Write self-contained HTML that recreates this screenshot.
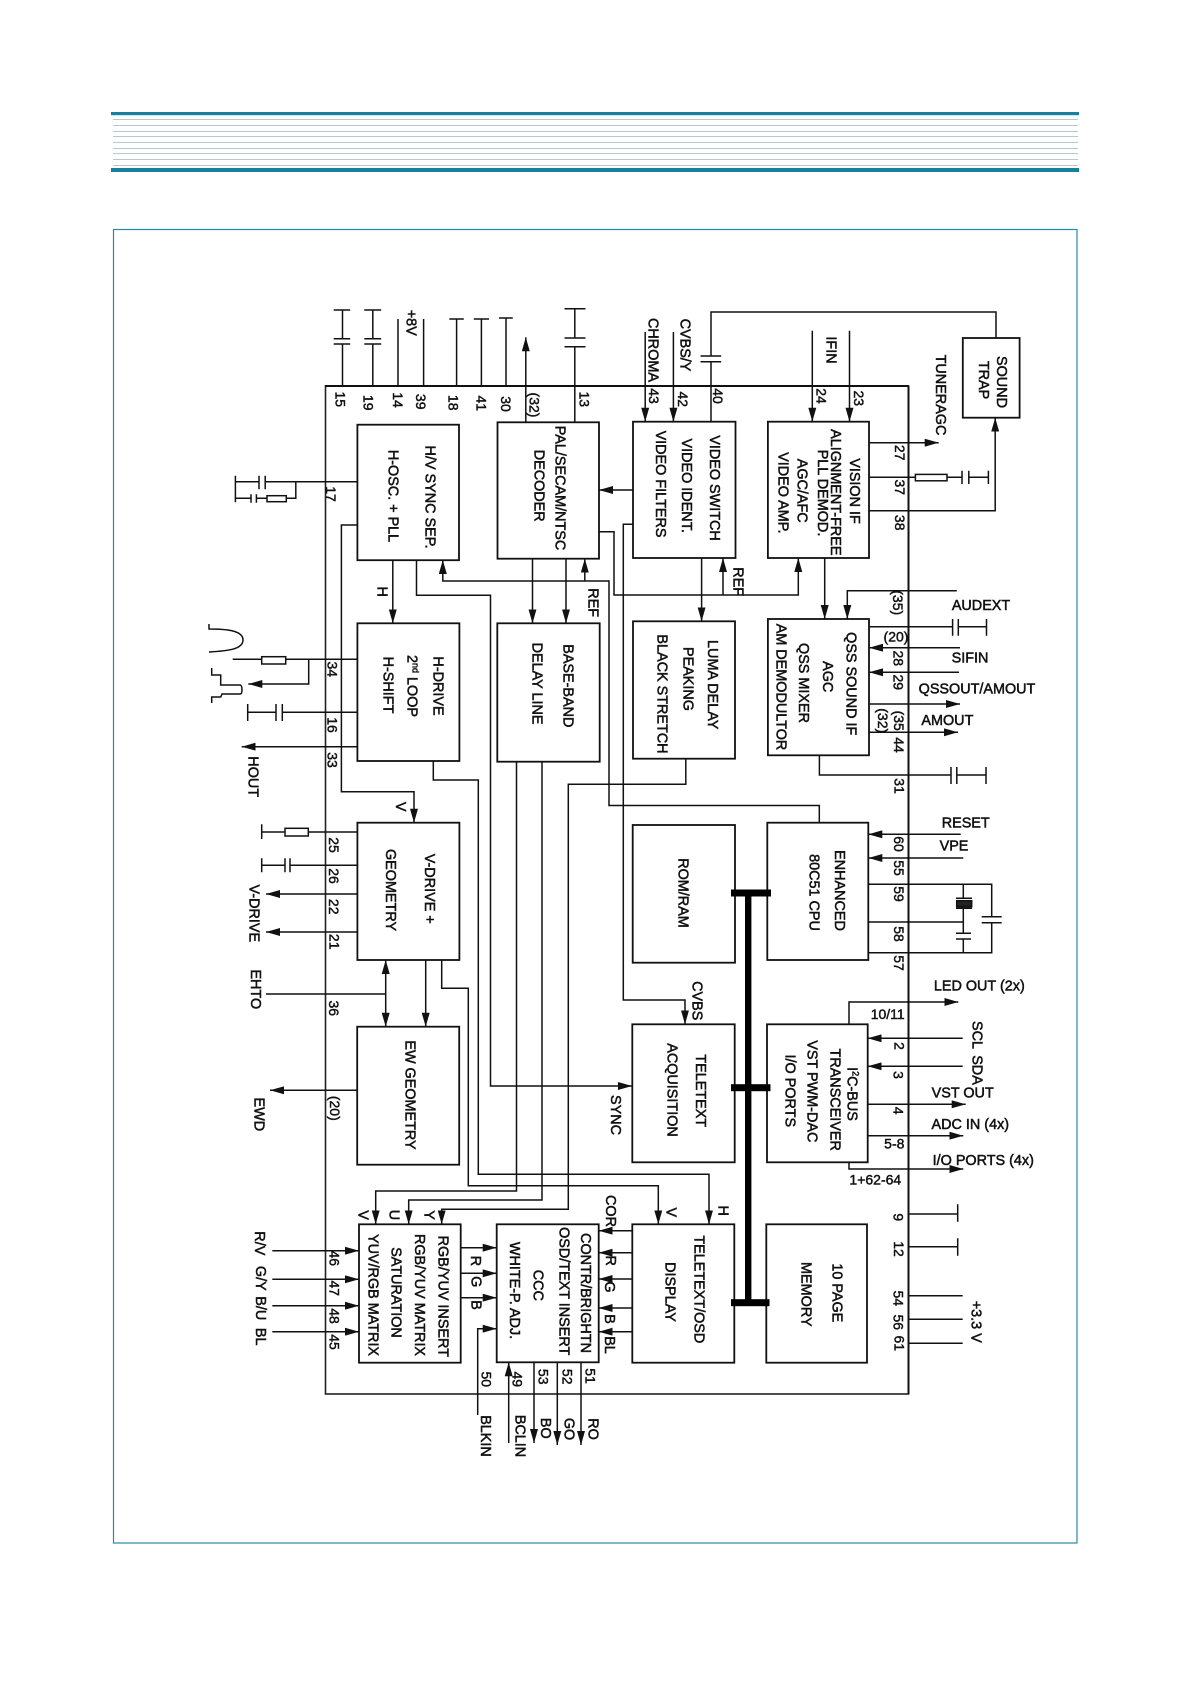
<!DOCTYPE html>
<html><head><meta charset="utf-8"><style>
html,body{margin:0;padding:0;background:#fff}
svg{display:block}
text{font-family:"Liberation Sans",sans-serif;font-size:14.4px;fill:#111;stroke:#111;stroke-width:.5;text-anchor:middle;dominant-baseline:central}
.s{font-size:14px;stroke-width:.45}
</style></head><body>
<svg width="1190" height="1684" viewBox="0 0 1190 1684" xmlns="http://www.w3.org/2000/svg">
<defs>
<marker id="a" markerWidth="14" markerHeight="8" refX="14" refY="4" orient="auto" markerUnits="userSpaceOnUse"><path d="M0 0L14 4L0 8z" fill="#111"/></marker>
<marker id="b" markerWidth="14" markerHeight="8" refX="14" refY="4" orient="auto-start-reverse" markerUnits="userSpaceOnUse"><path d="M0 0L14 4L0 8z" fill="#111"/></marker>
</defs>
<!-- header -->
<rect x="111" y="112" width="968" height="3.2" fill="#17809f"/>
<rect x="111" y="168" width="968" height="4" fill="#17809f"/>
<g stroke="#b7c9cd" stroke-width="1"><path d="M113 119.5H1078M113 125.5H1078M113 131.5H1078M113 136.5H1078M113 142.5H1078M113 148.5H1078M113 153.5H1078M113 159.5H1078M113 165.5H1078"/></g>
<rect x="113.5" y="229.5" width="963.5" height="1313.5" fill="none" stroke="#2a8aa5" stroke-width="1.2"/>
<!-- outer IC -->
<rect x="325.5" y="386" width="583" height="1008" fill="none" stroke="#222" stroke-width="1.6"/>
<path d="M325 386H908.5M908.5 386V1394" stroke="#111" stroke-width="2" fill="none"/>
<!-- blocks -->
<g fill="#fff" stroke="#111" stroke-width="1.8">
<rect x="357.4" y="424.7" width="101.6" height="135.5"/>
<rect x="357.4" y="623.3" width="102" height="137.7"/>
<rect x="357.4" y="822.7" width="102" height="137.3"/>
<rect x="357.2" y="1026.7" width="102" height="138"/>
<rect x="359" y="1224.3" width="101.7" height="138.4"/>
<rect x="497.5" y="422.3" width="101.5" height="136.4"/>
<rect x="497.3" y="623.3" width="102.4" height="138.4"/>
<rect x="496.7" y="1224.3" width="102" height="138"/>
<rect x="633" y="421.7" width="102.5" height="136.3"/>
<rect x="633" y="621.3" width="102" height="137.4"/>
<rect x="632.7" y="825" width="102.3" height="137.7"/>
<rect x="632.3" y="1024.3" width="102.4" height="138"/>
<rect x="632.3" y="1224.3" width="102" height="138.4"/>
<rect x="767.9" y="421.7" width="101.1" height="136.3"/>
<rect x="767.9" y="619" width="101.1" height="136.3"/>
<rect x="767.3" y="822.7" width="101" height="137.3"/>
<rect x="767" y="1024.3" width="100.7" height="138"/>
<rect x="766.3" y="1224.3" width="100.7" height="138.4"/>
<rect x="962.8" y="338" width="56.8" height="79.7"/>
</g>
<!-- bus -->
<g fill="#000">
<rect x="745" y="893" width="6.4" height="410"/>
<rect x="731" y="889.5" width="40" height="7"/>
<rect x="731" y="1084.2" width="39.5" height="7"/>
<rect x="731" y="1299.2" width="38.5" height="7"/>
</g>
<!-- plain wires -->
<g fill="none" stroke="#111" stroke-width="1.5">
<!-- top pins -->
<path d="M342.5 386V344M333.7 344H350.2M333.7 338.7H350.2M342.5 338.7V310M333.7 310H350.2"/>
<path d="M372.8 386V344M364.3 344H381.2M364.3 338.7H381.2M372.8 338.7V310M364.3 310H381.2"/>
<path d="M398 386V319M423.6 386V319"/>
<path d="M456.6 386V319M449.3 319H463.8M481.4 386V319M473.8 319H489M506 386V318M499 318H512.8"/>
<path d="M574.8 422V346.7M564.5 346.7H585.5M564.5 338H585.5M574.8 338V308.7M564.5 308.7H585.5"/>
<!-- pin 17 -->
<path d="M357.4 481.7H265.2M265.2 475.7V489.3M259 475.7V489.3M259 481.7H235.4M235.4 475.7V502.3"/>
<path d="M295.8 481.7V498.3H286.3M267 498.3H256.4M256.4 494.3V502.7M251 494.3V502.7M251 498.3H235.4"/>
<rect x="267" y="495.7" width="19.3" height="6"/>
<!-- 40 + sound trap -->
<path d="M711 421.7V361.7M700.5 361.7H721.2M700.5 356H721.2M711 356V312H996V338"/>
<!-- 37 -->
<path d="M869 477.3H915.4M947 477.3H962M962 470.7V484M968.8 470.7V484M968.8 477.3H988.4M988.4 470.7V484"/>
<rect x="915.4" y="474.4" width="31.6" height="6.4"/>
<!-- QSS caps -->
<path d="M869 626.7H952.6M952.6 619V635.7M958.3 619V635.7M958.3 626.7H986.5M986.5 619V635.7"/>
<path d="M819.4 755.3V775H951M951 767V784M956.8 767V784M956.8 775H986M986 767V784"/>
<!-- CPU crystal -->
<path d="M868.3 884.3H991.7V916.7M981.7 916.7H1001.7M981.7 922.7H1001.7M991.7 922.7V952.7H868.3"/>
<path d="M868.3 922H963.3M963.3 884.3V898.3M956 898.3H972M956 908.3H972M963.3 908.3V933.3M956 933.3H971M956 939H971M963.3 939V952.7"/>
<rect x="956.7" y="900.7" width="15" height="6" fill="#222"/>
<!-- 9 12 3.3V -->
<path d="M908.5 1214H957.7M957.7 1204.3V1221.7M908.5 1246.7H957.7M957.7 1238.3V1255.7M908.5 1295.7H962.7M908.5 1319.3H962.7M908.5 1343.3H962.7"/>
<!-- left pins -->
<path d="M357.4 659.3H285.7M261.7 659.3H232.7"/>
<rect x="261.7" y="656.7" width="24" height="7.3"/>
<path d="M357.4 712.3H282.3M282.3 704V721M276 704V721M276 712.3H247.7M247.7 704V721"/>
<path d="M357.4 832H308.3M285 832H261.7M261.7 824.3V839"/>
<rect x="285" y="828.3" width="23.3" height="7.7"/>
<path d="M357.4 865.3H290M290 858.3V872.3M285 858.3V872.3M285 865.3H261.7M261.7 858.3V872.3"/>
<path d="M209 624V629C225 629 243 630 243 640C243 650 225 651 209 652"/>
<path d="M211.7 668V675H220.7V685H240Q242 685 242 690Q242 694 240 694H222L220.7 697H211.7V703"/>
<path d="M266 994H385.7"/>
</g>
<!-- arrow wires -->
<g fill="none" stroke="#111" stroke-width="1.5" marker-end="url(#a)">
<path d="M525.8 422V337.3" marker-end="url(#a)"/>
<path d="M645.2 332V421.7" marker-end="url(#a)"/>
<path d="M673.4 332V421.7" marker-end="url(#a)"/>
<path d="M812.3 330.7V421.7" marker-end="url(#a)"/>
<path d="M849.5 330.7V421.7" marker-end="url(#a)"/>
<path d="M869 442.7H938.7" marker-end="url(#a)"/>
<path d="M869 510.7H995.2V417.7" marker-end="url(#a)"/>
<path d="M633 490H599" marker-end="url(#a)"/>
<path d="M701.6 558V621.3" marker-end="url(#a)"/>
<path d="M824.7 558V619" marker-end="url(#a)"/>
<path d="M956.8 590.7H847.3V619" marker-end="url(#a)"/>
<path d="M960 647.7H869" marker-end="url(#a)"/>
<path d="M959 672.3H869" marker-end="url(#a)"/>
<path d="M869 704H960" marker-end="url(#a)"/>
<path d="M869 732.3H958" marker-end="url(#a)"/>
<path d="M960.7 834.3H868.3" marker-end="url(#a)"/>
<path d="M963.3 858H868.3" marker-end="url(#a)"/>
<path d="M849 1024.3V1002H958.3" marker-end="url(#a)"/>
<path d="M962.7 1038.3H867.7" marker-end="url(#a)"/>
<path d="M962.7 1066.3H867.7" marker-end="url(#a)"/>
<path d="M867.7 1104.3H965.7" marker-end="url(#a)"/>
<path d="M867.7 1135.7H963.3" marker-end="url(#a)"/>
<path d="M849 1162.3V1169H963.3" marker-end="url(#a)"/>
<path d="M392.8 560V623.3" marker-end="url(#a)"/>
<path d="M357.4 525H341.4V791.7H414V822.7" marker-end="url(#a)"/>
<path d="M416.5 560V595.3H490.5V1086H632" marker-end="url(#a)"/>
<path d="M433.3 761V780H478.3V1174.3H709V1224.3" marker-end="url(#a)"/>
<path d="M441.7 960V988.3H468.3V1185.7H658.3V1224.3" marker-end="url(#a)"/>
<path d="M425.7 960V1026.7" marker-end="url(#a)"/>
<path d="M357.2 1090.3H270" marker-end="url(#a)"/>
<path d="M516.5 761.7V1191H375.7V1224.3" marker-end="url(#a)"/>
<path d="M542 761.7V1200H408.7V1224.3" marker-end="url(#a)"/>
<path d="M685.8 758.7V784.3H568.3V1209.3H441.7V1224.3" marker-end="url(#a)"/>
<path d="M532.5 558.7V623.3" marker-end="url(#a)"/>
<path d="M566 558.7V623.3" marker-end="url(#a)"/>
<path d="M819.3 822.7V805.5H609V581H442.8V560" marker-end="url(#a)"/>
<path d="M584.8 581V558.7" marker-end="url(#a)"/>
<path d="M599 531.7H614V595H798.3V558" marker-end="url(#a)"/>
<path d="M723 595V558" marker-end="url(#a)"/>
<path d="M633 524.3H623.3V1000H685V1024.3" marker-end="url(#a)"/>
<path d="M308.7 659.3V684H248.3" marker-end="url(#a)"/>
<path d="M357.4 746.7H241.7" marker-end="url(#a)"/>
<path d="M357.4 894H266" marker-end="url(#a)"/>
<path d="M357.4 932H266" marker-end="url(#a)"/>
<path d="M272.3 1250.7H359" marker-end="url(#a)"/>
<path d="M272.3 1279.3H359" marker-end="url(#a)"/>
<path d="M272.3 1305.7H359" marker-end="url(#a)"/>
<path d="M272.3 1331.7H359" marker-end="url(#a)"/>
<path d="M460.7 1247.7H496.7" marker-end="url(#a)"/>
<path d="M460.7 1273.3H496.7" marker-end="url(#a)"/>
<path d="M460.7 1297.7H496.7" marker-end="url(#a)"/>
<path d="M477.7 1415V1328.7H496.7" marker-end="url(#a)"/>
<path d="M508.7 1443V1362.3" marker-end="url(#a)"/>
<path d="M534 1362.3V1443" marker-end="url(#a)"/>
<path d="M557.3 1362.3V1445" marker-end="url(#a)"/>
<path d="M581 1362.3V1445" marker-end="url(#a)"/>
<path d="M632.3 1230.7H598.7" marker-end="url(#a)"/>
<path d="M632.3 1252.7H598.7" marker-end="url(#a)"/>
<path d="M632.3 1279H598.7" marker-end="url(#a)"/>
<path d="M632.3 1308H598.7" marker-end="url(#a)"/>
<path d="M632.3 1331.7H598.7" marker-end="url(#a)"/>
</g>
<path d="M385.7 960V1026.7" fill="none" stroke="#111" stroke-width="1.5" marker-start="url(#b)" marker-end="url(#b)"/>
<!-- block labels (rotated) -->
<g>
<text transform="translate(429.4 497) rotate(90)">H/V SYNC SEP.</text>
<text transform="translate(392.3 496) rotate(90)">H-OSC. + PLL</text>
<text transform="translate(559.5 488) rotate(90)">PAL/SECAM/NTSC</text>
<text transform="translate(538.5 485.7) rotate(90)">DECODER</text>
<text transform="translate(714 488) rotate(90)">VIDEO SWITCH</text>
<text transform="translate(686 485.7) rotate(90)">VIDEO IDENT.</text>
<text transform="translate(659.8 484) rotate(90)">VIDEO FILTERS</text>
<text transform="translate(854 491) rotate(90)">VISION IF</text>
<text transform="translate(835 492.3) rotate(90)">ALIGNMENT-FREE</text>
<text transform="translate(822 493) rotate(90)">PLL DEMOD.</text>
<text transform="translate(801.4 490.7) rotate(90)">AGC/AFC</text>
<text transform="translate(782.5 492.8) rotate(90)">VIDEO AMP.</text>
<text transform="translate(1001 382) rotate(90)">SOUND</text>
<text transform="translate(983 380) rotate(90)">TRAP</text>
<text transform="translate(711.8 684.7) rotate(90)">LUMA DELAY</text>
<text transform="translate(687.7 679) rotate(90)">PEAKING</text>
<text transform="translate(661.3 694) rotate(90)">BLACK STRETCH</text>
<text transform="translate(850.3 683.7) rotate(90)">QSS SOUND IF</text>
<text transform="translate(827 676.7) rotate(90)">AGC</text>
<text transform="translate(803 683) rotate(90)">QSS MIXER</text>
<text transform="translate(780.7 687) rotate(90)">AM DEMODULTOR</text>
<text transform="translate(437.3 686) rotate(90)">H-DRIVE</text>
<text transform="translate(411.7 686) rotate(90)">2<tspan font-size="9" dy="-4">nd</tspan><tspan dy="4"> LOOP</tspan></text>
<text transform="translate(387.3 685) rotate(90)">H-SHIFT</text>
<text transform="translate(567.3 685.8) rotate(90)">BASE-BAND</text>
<text transform="translate(536.7 683.5) rotate(90)">DELAY LINE</text>
<text transform="translate(429 888.7) rotate(90)">V-DRIVE +</text>
<text transform="translate(390 890) rotate(90)">GEOMETRY</text>
<text transform="translate(409.3 1095) rotate(90)">EW GEOMETRY</text>
<text transform="translate(682.7 893) rotate(90)">ROM/RAM</text>
<text transform="translate(839 890.5) rotate(90)">ENHANCED</text>
<text transform="translate(813.3 892.5) rotate(90)">80C51 CPU</text>
<text transform="translate(700 1090.7) rotate(90)">TELETEXT</text>
<text transform="translate(671.7 1090) rotate(90)">ACQUISITION</text>
<text transform="translate(851.7 1094) rotate(90)">I<tspan font-size="9" dy="-4">2</tspan><tspan dy="4">C-BUS</tspan></text>
<text transform="translate(834.3 1099.7) rotate(90)">TRANSCEIVER</text>
<text transform="translate(811.7 1091.3) rotate(90)">VST PWM-DAC</text>
<text transform="translate(789.3 1090.8) rotate(90)">I/O PORTS</text>
<text transform="translate(698.3 1289.3) rotate(90)">TELETEXT/OSD</text>
<text transform="translate(669.3 1292) rotate(90)">DISPLAY</text>
<text transform="translate(836.7 1292.8) rotate(90)">10 PAGE</text>
<text transform="translate(805.7 1294.3) rotate(90)">MEMORY</text>
<text transform="translate(585 1293) rotate(90)">CONTR/BRIGHTN</text>
<text transform="translate(563.3 1291.2) rotate(90)">OSD/TEXT INSERT</text>
<text transform="translate(537.3 1285.3) rotate(90)">CCC</text>
<text transform="translate(514 1290.5) rotate(90)">WHITE-P. ADJ.</text>
<text transform="translate(442.3 1296.3) rotate(90)">RGB/YUV INSERT</text>
<text transform="translate(419 1295) rotate(90)">RGB/YUV MATRIX</text>
<text transform="translate(395.7 1292.5) rotate(90)">SATURATION</text>
<text transform="translate(372.3 1295) rotate(90)">YUV/RGB MATRIX</text>
</g>
<!-- pin numbers -->
<g>
<text class="s" transform="translate(340.6 399.3) rotate(90)">15</text>
<text class="s" transform="translate(368.5 402.7) rotate(90)">19</text>
<text class="s" transform="translate(398 400) rotate(90)">14</text>
<text class="s" transform="translate(421 401.7) rotate(90)">39</text>
<text class="s" transform="translate(453.5 402.7) rotate(90)">18</text>
<text class="s" transform="translate(481.4 403.3) rotate(90)">41</text>
<text class="s" transform="translate(506 404) rotate(90)">30</text>
<text class="s" transform="translate(534.6 405) rotate(90)">(32)</text>
<text class="s" transform="translate(584.4 399.3) rotate(90)">13</text>
<text class="s" transform="translate(331 494) rotate(90)">17</text>
<text class="s" transform="translate(653.8 396) rotate(90)">43</text>
<text class="s" transform="translate(682.8 399.3) rotate(90)">42</text>
<text class="s" transform="translate(717.8 396) rotate(90)">40</text>
<text class="s" transform="translate(821.3 396) rotate(90)">24</text>
<text class="s" transform="translate(859 398.3) rotate(90)">23</text>
<text class="s" transform="translate(900 452.7) rotate(90)">27</text>
<text class="s" transform="translate(900 487.3) rotate(90)">37</text>
<text class="s" transform="translate(900 522.7) rotate(90)">38</text>
<text class="s" transform="translate(898 602.7) rotate(90)">(35)</text>
<text class="s" x="896" y="636.7">(20)</text>
<text class="s" transform="translate(898.5 658.3) rotate(90)">28</text>
<text class="s" transform="translate(898.5 682.3) rotate(90)">29</text>
<text class="s" transform="translate(899 720.7) rotate(90)">(35</text>
<text class="s" transform="translate(883 720.7) rotate(90)">(32)</text>
<text class="s" transform="translate(899 745) rotate(90)">44</text>
<text class="s" transform="translate(899.3 786) rotate(90)">31</text>
<text class="s" transform="translate(899 844) rotate(90)">60</text>
<text class="s" transform="translate(899 868) rotate(90)">55</text>
<text class="s" transform="translate(899 894) rotate(90)">59</text>
<text class="s" transform="translate(899 934) rotate(90)">58</text>
<text class="s" transform="translate(899 963) rotate(90)">57</text>
<text class="s" x="887.7" y="1014">10/11</text>
<text class="s" transform="translate(899.3 1046) rotate(90)">2</text>
<text class="s" transform="translate(898.3 1075) rotate(90)">3</text>
<text class="s" transform="translate(898.3 1110.7) rotate(90)">4</text>
<text class="s" x="894.3" y="1143.3">5-8</text>
<text class="s" x="875.3" y="1179.3">1+62-64</text>
<text class="s" transform="translate(898.3 1217.3) rotate(90)">9</text>
<text class="s" transform="translate(899 1249) rotate(90)">12</text>
<text class="s" transform="translate(898.3 1298.3) rotate(90)">54</text>
<text class="s" transform="translate(898.3 1322.3) rotate(90)">56</text>
<text class="s" transform="translate(899.3 1343.3) rotate(90)">61</text>
<text class="s" transform="translate(332.3 669.3) rotate(90)">34</text>
<text class="s" transform="translate(332.3 725) rotate(90)">16</text>
<text class="s" transform="translate(332.3 760) rotate(90)">33</text>
<text class="s" transform="translate(334 845) rotate(90)">25</text>
<text class="s" transform="translate(334 876) rotate(90)">26</text>
<text class="s" transform="translate(334 906.7) rotate(90)">22</text>
<text class="s" transform="translate(334.7 941.7) rotate(90)">21</text>
<text class="s" transform="translate(334 1008.3) rotate(90)">36</text>
<text class="s" transform="translate(335 1108.3) rotate(90)">(20)</text>
<text class="s" transform="translate(334.3 1258.3) rotate(90)">46</text>
<text class="s" transform="translate(334.3 1288.3) rotate(90)">47</text>
<text class="s" transform="translate(334.3 1316) rotate(90)">48</text>
<text class="s" transform="translate(334.3 1342) rotate(90)">45</text>
<text class="s" transform="translate(486.7 1379.3) rotate(90)">50</text>
<text class="s" transform="translate(517.7 1379.3) rotate(90)">49</text>
<text class="s" transform="translate(543.3 1376.7) rotate(90)">53</text>
<text class="s" transform="translate(567.3 1376.7) rotate(90)">52</text>
<text class="s" transform="translate(590.7 1376) rotate(90)">51</text>
</g>
<!-- signal labels -->
<g>
<text transform="translate(652.7 350) rotate(90)">CHROMA</text>
<text transform="translate(684.7 345) rotate(90)">CVBS/Y</text>
<text transform="translate(830.7 350) rotate(90)">IFIN</text>
<text transform="translate(940 395) rotate(90)">TUNERAGC</text>
<text x="981" y="606">AUDEXT</text>
<text x="970" y="658.3">SIFIN</text>
<text x="977" y="689.3">QSSOUT/AMOUT</text>
<text x="947.4" y="721">AMOUT</text>
<text x="965.7" y="823.3">RESET</text>
<text x="954" y="846.7">VPE</text>
<text x="979.3" y="986.7">LED OUT (2x)</text>
<text transform="translate(976.7 1035) rotate(90)">SCL</text>
<text transform="translate(976.7 1070) rotate(90)">SDA</text>
<text x="962.7" y="1093.3">VST OUT</text>
<text x="970.3" y="1125">ADC IN (4x)</text>
<text x="983.3" y="1161">I/O PORTS (4x)</text>
<text transform="translate(975.7 1321.7) rotate(90)">+3.3 V</text>
<text transform="translate(696.7 1000.7) rotate(90)">CVBS</text>
<text transform="translate(722.3 1210.7) rotate(90)">H</text>
<text transform="translate(670.7 1212.3) rotate(90)">V</text>
<text transform="translate(615 1115) rotate(90)">SYNC</text>
<text transform="translate(610 1211) rotate(90)">COR</text>
<text transform="translate(610 1260.7) rotate(90)">R</text>
<text transform="translate(609 1287) rotate(90)">G</text>
<text transform="translate(609 1319) rotate(90)">B</text>
<text transform="translate(609 1345) rotate(90)">BL</text>
<text transform="translate(475 1261) rotate(90)">R</text>
<text transform="translate(475.7 1281.7) rotate(90)">G</text>
<text transform="translate(475.7 1305) rotate(90)">B</text>
<text transform="translate(362.7 1215) rotate(90)">V</text>
<text transform="translate(393.3 1215) rotate(90)">U</text>
<text transform="translate(428.3 1215) rotate(90)">Y</text>
<text transform="translate(259 1243.3) rotate(90)">R/V</text>
<text transform="translate(260 1278.3) rotate(90)">G/Y</text>
<text transform="translate(260 1308.3) rotate(90)">B/U</text>
<text transform="translate(260 1336.7) rotate(90)">BL</text>
<text transform="translate(258.3 1114.3) rotate(90)">EWD</text>
<text transform="translate(485 1436) rotate(90)">BLKIN</text>
<text transform="translate(519.3 1436) rotate(90)">BCLIN</text>
<text transform="translate(545 1428.3) rotate(90)">BO</text>
<text transform="translate(568.3 1429) rotate(90)">GO</text>
<text transform="translate(592.3 1429) rotate(90)">RO</text>
<text transform="translate(381.7 591.7) rotate(90)">H</text>
<text transform="translate(400 806.7) rotate(90)">V</text>
<text transform="translate(252.7 776.7) rotate(90)">HOUT</text>
<text transform="translate(253.3 913.3) rotate(90)">V-DRIVE</text>
<text transform="translate(255 989.3) rotate(90)">EHTO</text>
<text transform="translate(592.7 602.7) rotate(90)">REF</text>
<text transform="translate(737.4 581.7) rotate(90)">REF</text>
<text transform="translate(410.6 322.7) rotate(90)">+8V</text>
</g>
</svg>
</body></html>
